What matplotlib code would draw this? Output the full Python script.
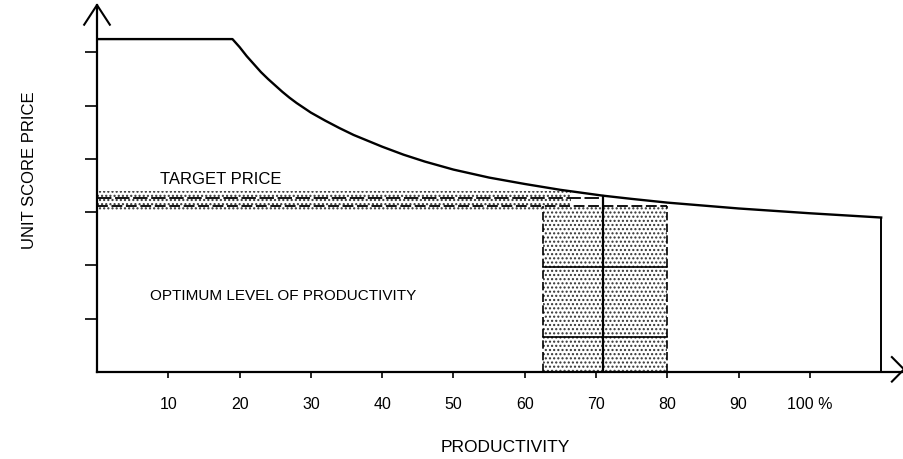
import matplotlib.pyplot as plt
import matplotlib.patches as mpatches

plt.rcParams['font.family'] = ['Liberation Sans', 'DejaVu Sans']
plt.rcParams['hatch.linewidth'] = 1.0

# price curve: flat ceiling up to ~19 %, then falling towards 110 %
prod = [0, 19, 20, 21, 22, 23, 24, 25, 26, 27, 28, 30, 32, 34, 36, 38, 40, 43, 46,
        50, 55, 60, 65, 71, 75, 80, 90, 100, 110]
price = [6.25, 6.25, 6.10, 5.93, 5.78, 5.63, 5.50, 5.38, 5.26, 5.15, 5.05, 4.87,
         4.72, 4.58, 4.45, 4.34, 4.23, 4.08, 3.95, 3.80, 3.65, 3.53, 3.42, 3.31,
         3.25, 3.18, 3.07, 2.98, 2.90]

x_ticks = [10, 20, 30, 40, 50, 60, 70, 80, 90, 100]
x_labels = ['10', '20', '30', '40', '50', '60', '70', '80', '90', '100 %']
y_ticks = [1, 2, 3, 4, 5, 6]

# target price band and optimum zone
band_low, band_high = 3.04, 3.40
band_line_hi, band_line_lo = 3.27, 3.11
band_end = 66.5
opt_lo, opt_hi, opt_mid = 62.5, 80, 71
opt_rows = [0.66, 1.97]
x_end = 110

fig = plt.figure(figsize=(9.04, 4.59), dpi=100)
ax = fig.add_axes([97 / 904, 87 / 459, 807 / 904, 367 / 459])
ax.set_xlim(0, 113.2)
ax.set_ylim(0, 6.89)

for s in ['top', 'right']:
    ax.spines[s].set_visible(False)
for s in ['left', 'bottom']:
    ax.spines[s].set_linewidth(1.6)

# stippled target band
ax.add_patch(mpatches.Rectangle((0, band_low), band_end, band_high - band_low,
                                facecolor='white', edgecolor='#333333', hatch='....',
                                linewidth=0))
ax.plot([0, 71], [band_line_hi, band_line_hi], color='black', lw=1.3, ls=(0, (8, 2)))
ax.plot([0, opt_hi], [band_line_lo, band_line_lo], color='black', lw=1.3, ls=(0, (6, 2)))

# stippled optimum zone
ax.add_patch(mpatches.Rectangle((opt_lo, 0), opt_hi - opt_lo, band_line_lo,
                                facecolor='white', edgecolor='#333333', hatch='....',
                                linewidth=0))
ax.plot([opt_lo, opt_lo], [0, band_line_lo], color='black', lw=1.2, ls=(0, (5, 2)))
ax.plot([opt_hi, opt_hi], [0, band_line_lo], color='black', lw=1.2, ls=(0, (5, 2)))
for r in opt_rows:
    ax.plot([opt_lo, opt_hi], [r, r], color='black', lw=1.2)
ax.plot([opt_mid, opt_mid], [0, 3.31], color='black', lw=1.6)

# price curve and its right-hand drop
ax.plot(prod, price, color='black', lw=1.7, solid_joinstyle='round')
ax.plot([x_end, x_end], [0, price[-1]], color='black', lw=1.4)

ax.set_xticks(x_ticks)
ax.set_xticklabels(x_labels, fontsize=11.5)
ax.set_yticks(y_ticks)
ax.set_yticklabels([])
ax.tick_params(axis='x', direction='out', length=4, width=1.2, pad=14)
ax.tick_params(axis='y', direction='out', length=9, width=1.2)

# open arrowheads on the axes
ax.plot([-1.8, 0, 1.8], [6.52, 6.89, 6.52], color='black', lw=1.5, clip_on=False)
ax.plot([111.5, 113.2, 111.5], [0.28, 0.05, -0.18], color='black', lw=1.5, clip_on=False)

ax.text(8.9, 3.48, 'TARGET PRICE', fontsize=12, va='bottom')
ax.text(7.5, 1.43, 'OPTIMUM LEVEL OF PRODUCTIVITY', fontsize=11, va='center')

fig.text(30 / 904, 1 - 170 / 459, 'UNIT SCORE PRICE', rotation=90, fontsize=12,
         ha='center', va='center')
fig.text(505 / 904, 1 - 448 / 459, 'PRODUCTIVITY', fontsize=12.5, ha='center', va='center')

fig.savefig('out.png', dpi=100)
